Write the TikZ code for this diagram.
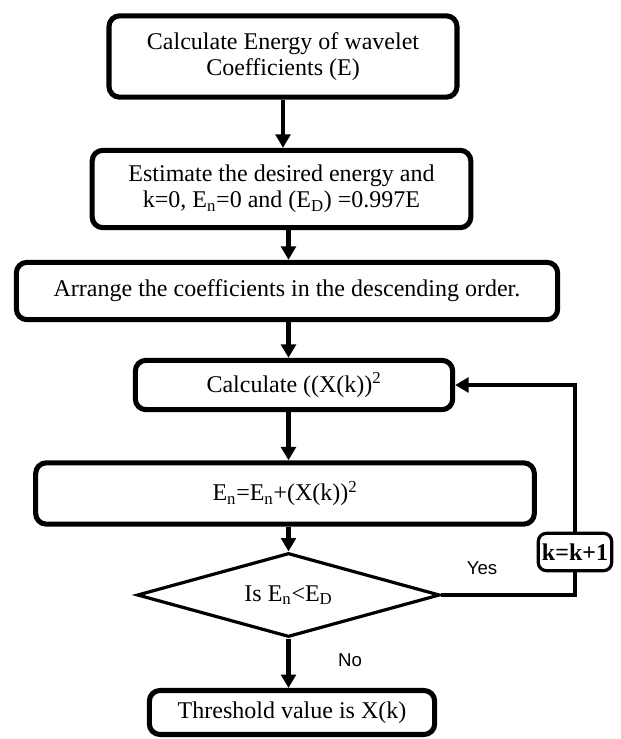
\documentclass[tikz,border=0pt]{standalone}
\usepackage{fontspec}
\setmainfont{Liberation Serif}
\newfontfamily\labelfont{Liberation Sans}
\usetikzlibrary{arrows.meta,shapes.geometric}

\tikzset{
  stepbox/.style={draw, line width=3.8pt, rounded corners=8pt, align=center,
    inner sep=0pt, font=\fontsize{18}{19.5}\selectfont},
  testbox/.style={draw, diamond, line width=2.4pt, inner sep=0pt, aspect=3.6,
    font=\fontsize{18}{19.5}\selectfont},
  countbox/.style={draw, line width=2.4pt, rounded corners=6pt, inner sep=0pt,
    font=\fontsize{18}{19.5}\selectfont\bfseries},
  answer/.style={font=\labelfont\fontsize{14}{16}\selectfont},
  flow/.style={line width=3.2pt, -{Triangle[width=11pt,length=10pt]}},
  link/.style={line width=3.2pt},
}

\begin{document}
\begin{tikzpicture}[x=0.75pt,y=-0.75pt]
\useasboundingbox (0,0) rectangle (621,739);
% steps
\node[stepbox, minimum width=261pt, minimum height=61pt] (energy) at (283,56.5) {Calculate Energy of wavelet\\Coefficients (E)};
\node[stepbox, minimum width=284pt, minimum height=58pt] (estimate) at (281.5,189) {Estimate the desired energy and\\k=0, E\textsubscript{n}=0 and (E\textsubscript{D}) =0.997E};
\node[stepbox, minimum width=406pt, minimum height=43pt] (arrange) at (287,291) {Arrange the coefficients in the descending order.};
\node[stepbox, minimum width=238pt, minimum height=37pt] (square) at (294,385) {Calculate ((X(k))\textsuperscript{2}};
\node[stepbox, minimum width=374pt, minimum height=46pt] (sum) at (285,493.5) {E\textsubscript{n}=E\textsubscript{n}+(X(k))\textsuperscript{2}};
\node[testbox, minimum width=227pt, minimum height=63pt] (test) at (288.5,595) {Is E\textsubscript{n}<E\textsubscript{D}};
\node[stepbox, minimum width=214pt, minimum height=33pt] (result) at (292,712.5) {Threshold value is X(k)};
\node[countbox, minimum width=55pt, minimum height=28pt] (count) at (575,552) {k=k+1};
% labels
\node[answer] (yes) at (482,568) {Yes};
\node[answer] (no) at (350,660) {No};
% arrows
\draw[flow] (energy.south) -- (energy.south |- estimate.north);
\draw[flow] (estimate.south -| test) -- (arrange.north -| test);
\draw[flow] (arrange.south -| test) -- (square.north -| test);
\draw[flow] (square.south -| test) -- (sum.north -| test);
\draw[flow] (sum.south -| test) -- (test.north);
\draw[flow] (test.south) -- (result.north -| test);
\draw[link] (test.east) -| (count.south);
\draw[flow] (count.north) |- (square.east);
\end{tikzpicture}
\end{document}
